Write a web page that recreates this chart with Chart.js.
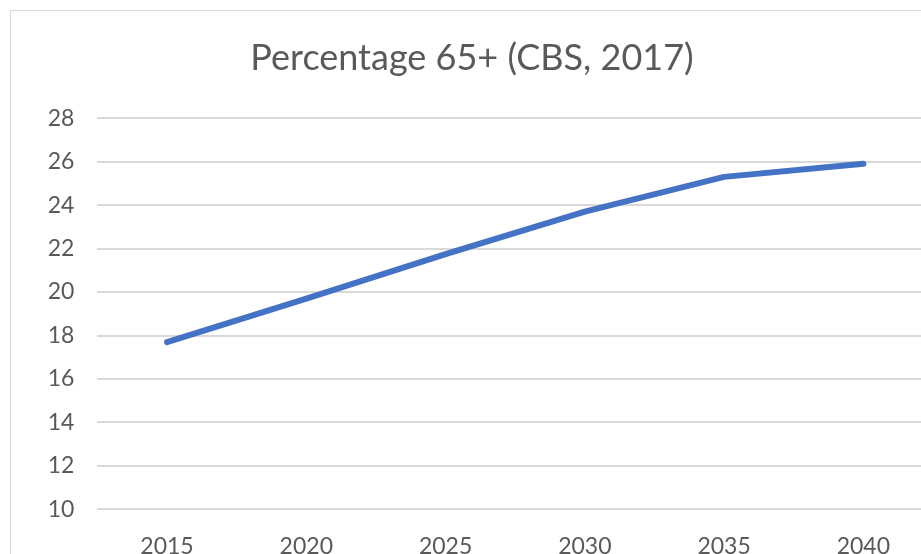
<!DOCTYPE html>
<html>
<head>
<meta charset="utf-8">
<script src="https://cdn.jsdelivr.net/npm/chart.js@4/dist/chart.umd.min.js"></script>
<style>
  html, body { margin: 0; padding: 0; background: #fff; overflow: hidden; width: 921px; height: 554px; }
  #frame { position: absolute; left: 10px; top: 10px; width: 924px; height: 590px; border: 1px solid #d9d9d9; background: #fff; }
  #wrap { position: absolute; left: 0; top: 0; width: 922px; height: 590px; }
</style>
</head>
<body>
<div id="frame"><div id="wrap"><canvas id="c"></canvas></div></div>
<script>
const titleText = "Percentage 65+ (CBS, 2017)";
const years = ["2015", "2020", "2025", "2030", "2035", "2040"];
const pct65 = [17.7, 19.7, 21.75, 23.7, 25.3, 25.9];
const yMin = 10, yMax = 28, yStep = 2;

const textColor = "#595959";
const gridColor = "#d9d9d9";
const fontFamily = "Lato, 'Open Sans', sans-serif";

new Chart(document.getElementById("c"), {
  type: "line",
  data: {
    labels: years,
    datasets: [{
      label: titleText,
      data: pct65,
      borderColor: "#4472C4",
      backgroundColor: "#4472C4",
      borderWidth: 6,
      borderCapStyle: "round",
      borderJoinStyle: "round",
      pointRadius: 0,
      tension: 0,
      fill: false
    }]
  },
  options: {
    responsive: true,
    maintainAspectRatio: false,
    animation: false,
    devicePixelRatio: 1,
    layout: { padding: { left: 0, right: 0, top: 0, bottom: 18 } },
    plugins: {
      legend: { display: false },
      tooltip: { enabled: false },
      title: {
        display: true,
        text: titleText,
        color: textColor,
        font: { family: fontFamily, size: 36, weight: "normal" },
        padding: { top: 26, bottom: 38 }
      }
    },
    scales: {
      x: {
        type: "category",
        offset: true,
        grid: { display: false, drawTicks: false },
        border: { display: false },
        ticks: { color: textColor, font: { family: fontFamily, size: 23 }, padding: 23, maxRotation: 0 }
      },
      y: {
        min: yMin, max: yMax,
        afterFit: (s) => { s.width = 86.4; },
        grid: { color: gridColor, lineWidth: 2, drawTicks: false },
        border: { display: false },
        ticks: { stepSize: yStep, color: textColor, font: { family: fontFamily, size: 23 }, padding: 23 }
      }
    }
  }
});
</script>
</body>
</html>
